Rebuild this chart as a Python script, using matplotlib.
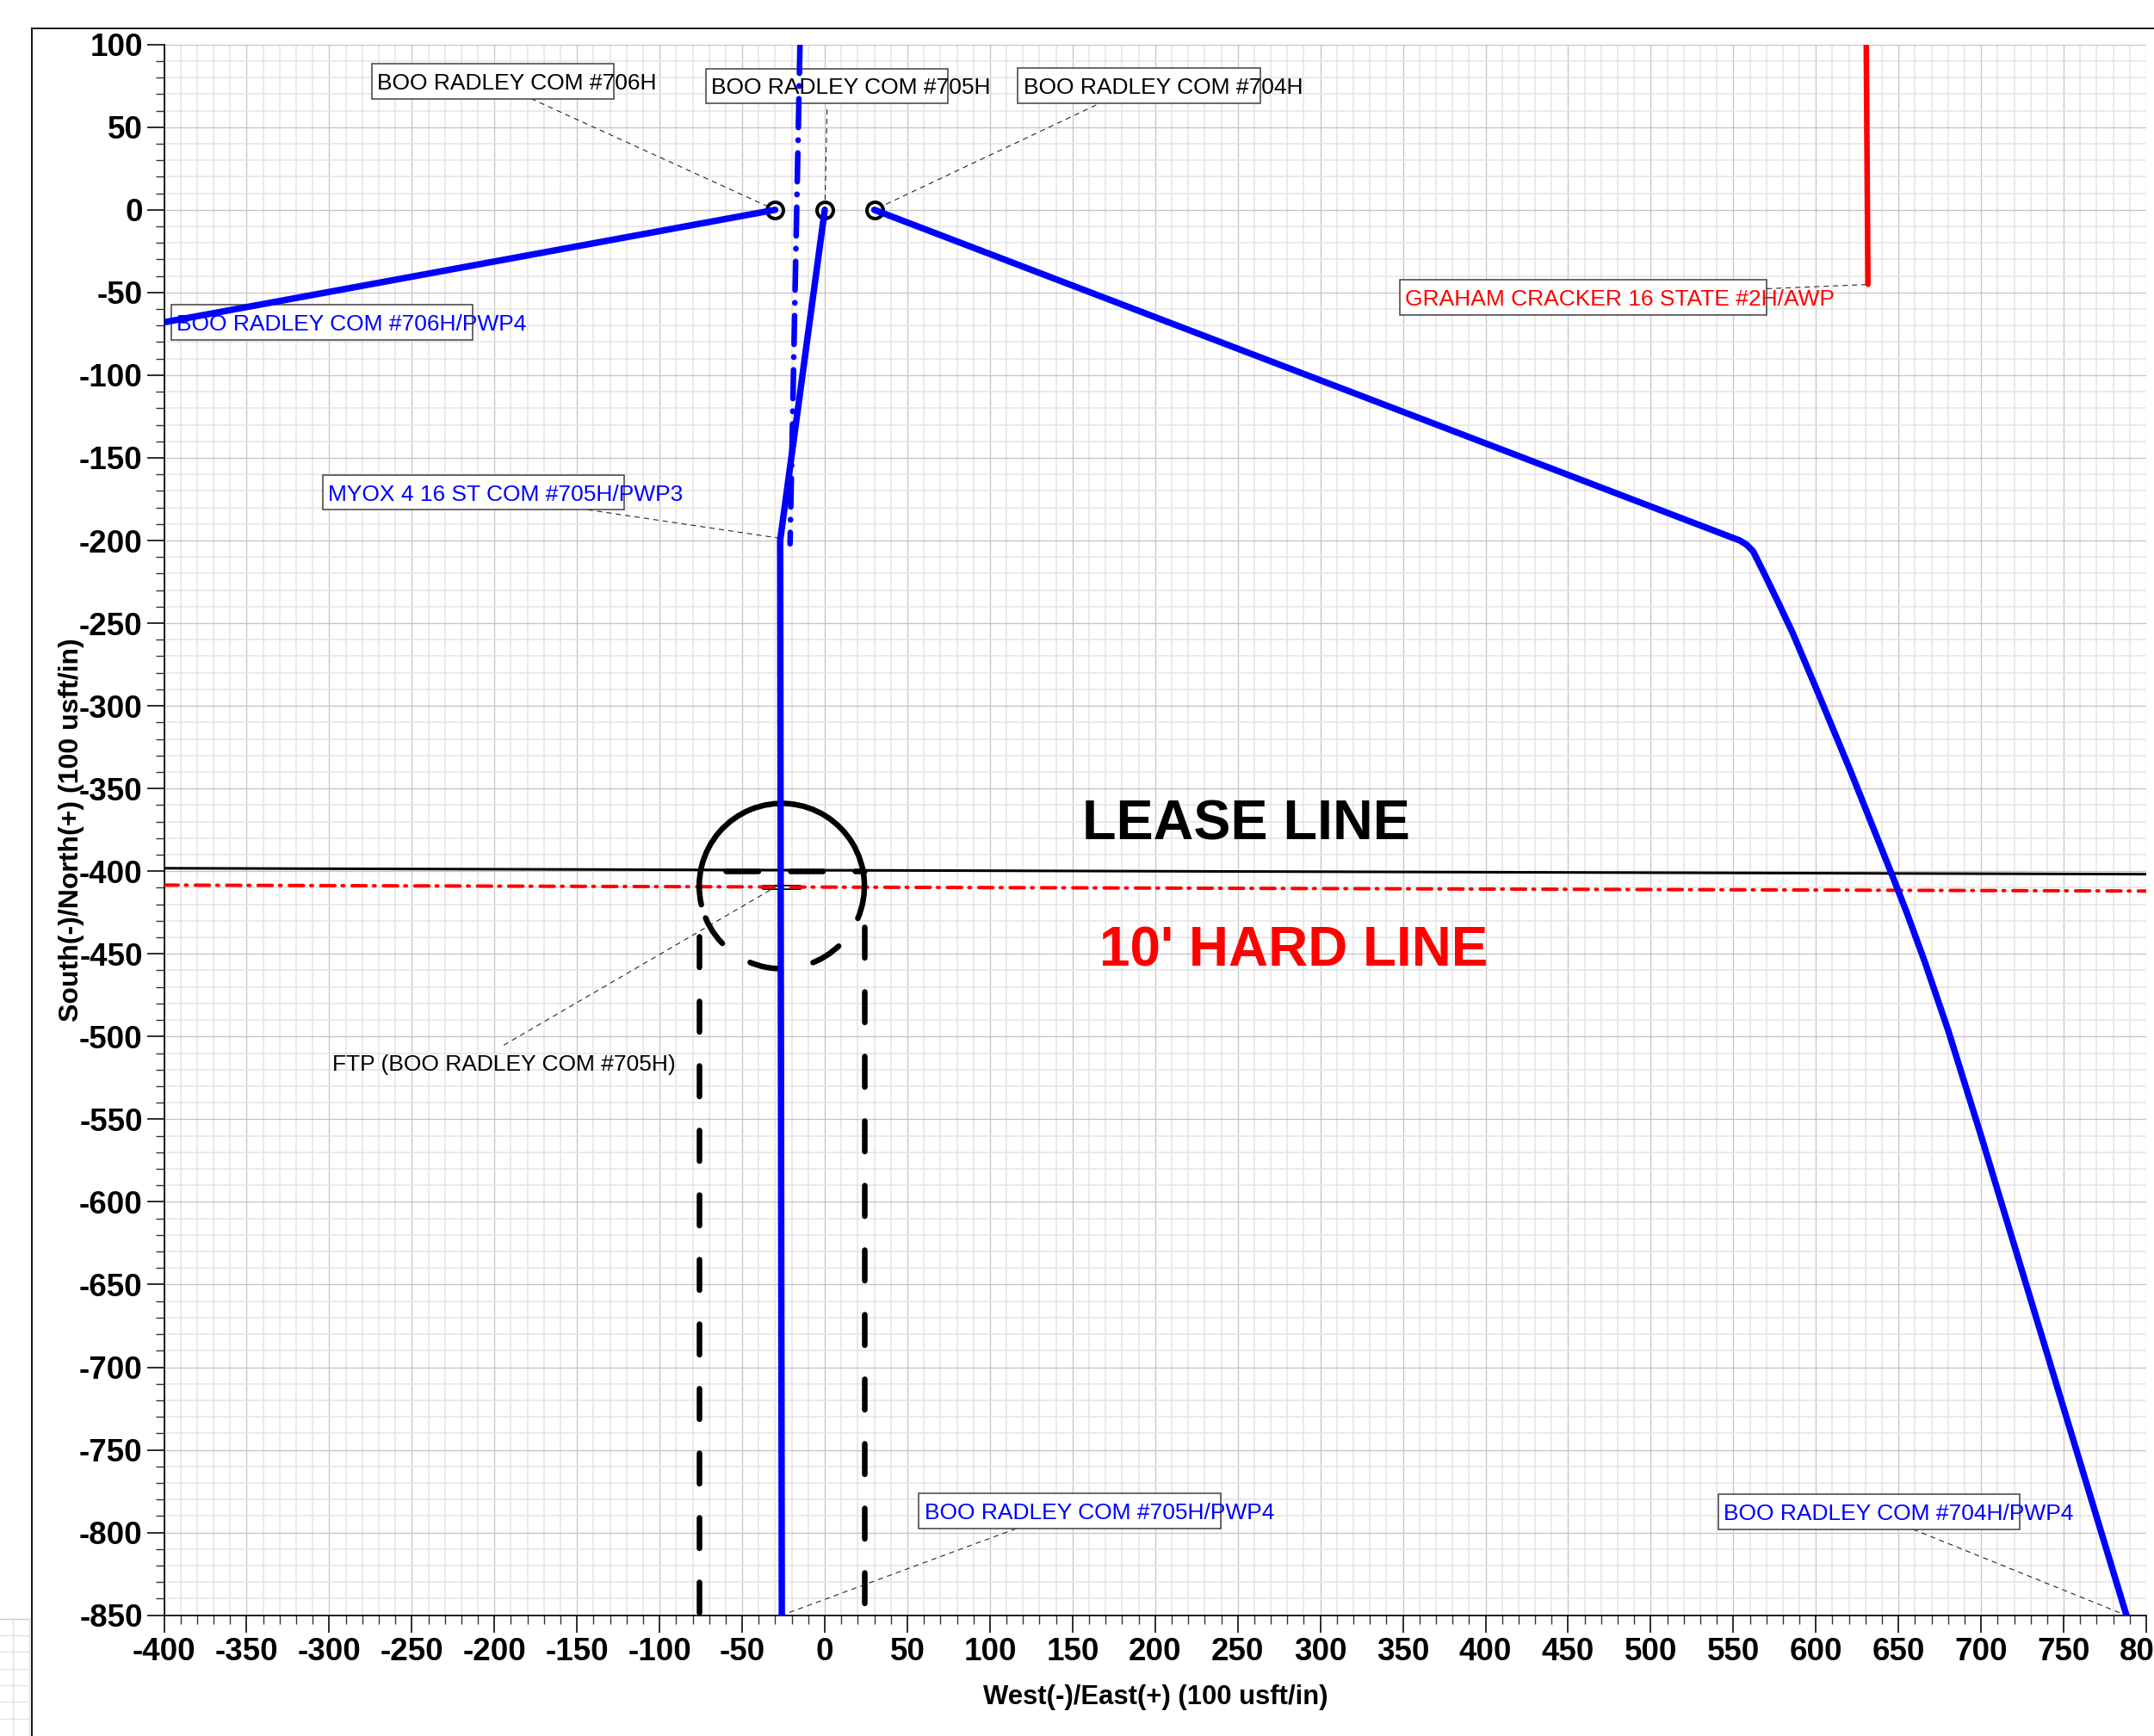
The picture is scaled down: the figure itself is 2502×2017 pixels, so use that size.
import matplotlib
matplotlib.use('Agg')
import matplotlib.pyplot as plt
from matplotlib.patches import Rectangle, Arc
from matplotlib.lines import Line2D
from matplotlib.ticker import MultipleLocator

plt.rcParams['font.family'] = ['Liberation Sans', 'DejaVu Sans']
plt.rcParams['axes.unicode_minus'] = False
plt.rcParams['lines.scale_dashes'] = False

# ---------------- data ----------------
x_ticks = list(range(-400, 801, 50))
y_ticks = list(range(-850, 101, 50))

wellhead_x = [-30, 0, 30]
wellhead_y = [0, 0, 0]

well_706h_x = [-30, -400]
well_706h_y = [0, -68]

well_705h_x = [0, -27, -26]
well_705h_y = [0, -200, -850]

well_704h_x = [30, 554, 558, 562, 568.5, 577, 586, 600, 621, 646, 655, 666, 680, 700, 788]
well_704h_y = [0, -200, -202.5, -206.5, -219.5, -237, -256, -289, -339.5, -402, -425, -455, -496, -560, -850]

myox_705h_x = [-15, -21]
myox_705h_y = [100, -202]

graham_x = [630.5, 631.5]
graham_y = [100, -45]

lease_x = [-400, 800]
lease_y = [-398.2, -401.8]

hard_x = [-400, 800]
hard_y = [-408.4, -412.0]

ftp_center_x = -26
ftp_center_y = -409
ftp_radius = 50
setback_left_x = -76
setback_right_x = 24

# label texts
label_texts = ['BOO RADLEY COM #706H', 'BOO RADLEY COM #705H', 'BOO RADLEY COM #704H',
               'BOO RADLEY COM #706H/PWP4', 'MYOX 4 16 ST COM #705H/PWP3',
               'GRAHAM CRACKER 16 STATE #2H/AWP', 'BOO RADLEY COM #705H/PWP4',
               'BOO RADLEY COM #704H/PWP4', 'FTP (BOO RADLEY COM #705H)']
label_colors = ['black', 'black', 'black', 'blue', 'blue', 'red', 'blue', 'blue', 'black']

# ---------------- layout (positions of annotation boxes, in data units) ----------------
label_boxes = [(-274.2, 67.3, -127.6, 88.2), (-71.8, 64.6, 74.6, 85.4), (116.8, 64.6, 263.6, 85.6),
               (-395.5, -78.5, -213.1, -57.6), (-304.0, -181.4, -121.6, -160.6),
               (347.9, -63.4, 570.3, -42.5), (56.8, -797.6, 239.5, -776.3),
               (540.9, -798.0, 723.5, -777.0), None]
label_text_x = [-271, -68.6, 120.2, -392.4, -300.6, 351.4, 60.4, 543.9, -298]
label_text_yc = [77.7, 75.0, 75.1, -68.0, -171.0, -53.0, -787.0, -787.5, -515.6]
leaders = [((-177.9, 67.3), (-35, 2.3)), ((1.4, 60.8), (0.2, 5.5)), ((164.3, 63.4), (35, 2.4)),
           ((-143.5, -181.4), (-25.8, -198.8)), ((570.3, -47.7), (630.5, -45.2)),
           ((115.9, -797.6), (-26, -850)), ((658.7, -798.0), (787.7, -850)),
           ((-194.3, -505.2), (-28, -408.5))]

DPI = 100
PX = 72.0 / DPI  # points per pixel


def dpat(lw_px, pattern_px, offset_px=0.0):
    """dash pattern in pixels (visible lengths incl. round caps) -> points"""
    out = []
    for i, v in enumerate(pattern_px):
        if i % 2 == 0:
            out.append(max(v - lw_px, 0.3) * PX)
        else:
            out.append((v + lw_px) * PX)
    return (offset_px * PX, out)


fig = plt.figure(figsize=(25.02, 20.17), dpi=DPI)
ax = fig.add_axes([190.5 / 2502, 1 - 1876.7 / 2017, (2493 - 190.5) / 2502, (1876.7 - 51.7) / 2017])
ax.set_xlim(-400, 800)
ax.set_ylim(-850, 100)

ax.xaxis.set_minor_locator(MultipleLocator(10))
ax.yaxis.set_minor_locator(MultipleLocator(10))
ax.set_xticks(x_ticks)
ax.set_yticks(y_ticks)
ax.set_xticklabels([str(v) for v in x_ticks])
ax.set_yticklabels([str(v) for v in y_ticks])
ax.set_axisbelow(True)
ax.grid(which='major', color='#c4c4c4', lw=1.3 * PX)
ax.grid(which='minor', color='#e4e4e4', lw=1.5 * PX)
ax.tick_params(which='major', length=20 * PX, width=1.6 * PX, labelsize=26.5, pad=3.5, color='black')
ax.tick_params(which='minor', length=10 * PX, width=1.4 * PX, color='#333333')
for lab in ax.get_xticklabels() + ax.get_yticklabels():
    lab.set_fontweight('bold')
for s in ['top', 'right']:
    ax.spines[s].set_visible(False)
for s in ['left', 'bottom']:
    ax.spines[s].set_linewidth(1.7 * PX)
    ax.spines[s].set_color('black')

# lease line and hard line
ax.plot(lease_x, lease_y, color='black', lw=3 * PX, zorder=3)
ax.plot([-37, -15], [hard_y[0] - 1.5, hard_y[0] - 1.5], color='black', lw=6 * PX,
        solid_capstyle='round', zorder=3.5)
ax.plot([-37, -15], [hard_y[0] - 1.5, hard_y[0] - 1.5], color='white', lw=2.5 * PX,
        solid_capstyle='round', zorder=3.6)
ax.plot(hard_x, hard_y, color='red', lw=4 * PX, zorder=3.7, dash_capstyle='round',
        linestyle=dpat(4, [20.5, 4.4, 6, 5.5]))

# FTP setback shape
ax.add_patch(Arc((ftp_center_x, ftp_center_y), 2 * ftp_radius, 2 * ftp_radius, theta1=-23, theta2=193,
                 color='black', lw=6.5 * PX, zorder=4, capstyle='round'))
ax.add_patch(Arc((ftp_center_x, ftp_center_y), 2 * ftp_radius, 2 * ftp_radius, theta1=202.7, theta2=316,
                 color='black', lw=6.5 * PX, zorder=4, capstyle='round',
                 linestyle=dpat(6.5, [42, 33])))
ax.plot([setback_left_x, setback_left_x], [-439.6, -850], color='black', lw=6.5 * PX,
        dash_capstyle='round', linestyle=dpat(6.5, [42, 33]), zorder=4)
ax.plot([setback_right_x, setback_right_x], [-433.6, -850], color='black', lw=6.5 * PX,
        dash_capstyle='round', linestyle=dpat(6.5, [42, 33]), zorder=4)
ax.plot([setback_left_x, setback_right_x], [-400, -400], color='black', lw=6.5 * PX,
        dash_capstyle='round', linestyle=dpat(6.5, [44, 31], offset_px=44), zorder=4)

# annotation boxes, texts and leaders
for (p0, p1) in leaders:
    ax.plot([p0[0], p1[0]], [p0[1], p1[1]], color='#222222', lw=1.1 * PX,
            linestyle=(0, (6 * PX, 5 * PX)), zorder=5)
for txt, col, box, tx, tyc in zip(label_texts, label_colors, label_boxes, label_text_x, label_text_yc):
    if box is not None:
        x0, y0, x1, y1 = box
        ax.add_patch(Rectangle((x0, y0), x1 - x0, y1 - y0, facecolor='white', edgecolor='#3a3a3a',
                               lw=1.5 * PX, zorder=5.5))
        tyc = (y0 + y1) / 2
    ax.text(tx, tyc - 4.9, txt, color=col, fontsize=19, ha='left', va='baseline', zorder=6)

# wells
ax.plot(wellhead_x, wellhead_y, linestyle='none', marker='o', markersize=19 * PX,
        markerfacecolor='none', markeredgecolor='black', markeredgewidth=4 * PX, zorder=7)
blue_kw = dict(color='#0000ff', lw=7.5 * PX, solid_capstyle='round', solid_joinstyle='round', zorder=8)
ax.plot(well_706h_x, well_706h_y, **blue_kw)
ax.plot(well_705h_x, well_705h_y, **blue_kw)
ax.plot(well_704h_x, well_704h_y, **blue_kw)
ax.plot(myox_705h_x, myox_705h_y, color='#0000ff', lw=6.5 * PX, dash_capstyle='round', zorder=8,
        linestyle=dpat(6.5, [40, 8, 7, 8]))
ax.plot(graham_x, graham_y, color='#ff0000', lw=6.5 * PX, solid_capstyle='round', zorder=8)

# big labels
ax.text(156, -381, 'LEASE LINE', fontsize=46.5, fontweight='bold', color='black',
        ha='left', va='baseline', zorder=6)
ax.text(166, -457.5, "10' HARD LINE", fontsize=46, fontweight='bold', color='#ff0000',
        ha='left', va='baseline', zorder=6)

# axis titles
fig.text(1342 / 2502, 1 - 1972 / 2017, 'West(-)/East(+) (100 usft/in)', fontsize=22.3,
         fontweight='bold', ha='center', va='center')
fig.text(83 / 2502, 1 - 964 / 2017, 'South(-)/North(+) (100 usft/in)', fontsize=23,
         fontweight='bold', ha='center', va='center', rotation=90)

# page frame
fig.add_artist(Line2D([36.7 / 2502, 1.0], [1 - 32.7 / 2017] * 2, transform=fig.transFigure,
                      color='black', lw=1.8 * PX))
fig.add_artist(Line2D([36.7 / 2502] * 2, [0.0, 1 - 32.7 / 2017], transform=fig.transFigure,
                      color='black', lw=1.8 * PX))
# neighbouring page fragment at lower left
for gy in [1881, 1900, 1919, 1939, 1958, 1977, 1997]:
    fig.add_artist(Line2D([0, 35 / 2502], [1 - gy / 2017] * 2, transform=fig.transFigure,
                          color='#c8c8c8' if gy == 1881 else '#e2e2e2', lw=1.3 * PX))
for gx in [15, 34]:
    fig.add_artist(Line2D([gx / 2502] * 2, [0, 1 - 1881 / 2017], transform=fig.transFigure,
                          color='#e2e2e2', lw=1.3 * PX))

fig.savefig('out.png', dpi=DPI)
